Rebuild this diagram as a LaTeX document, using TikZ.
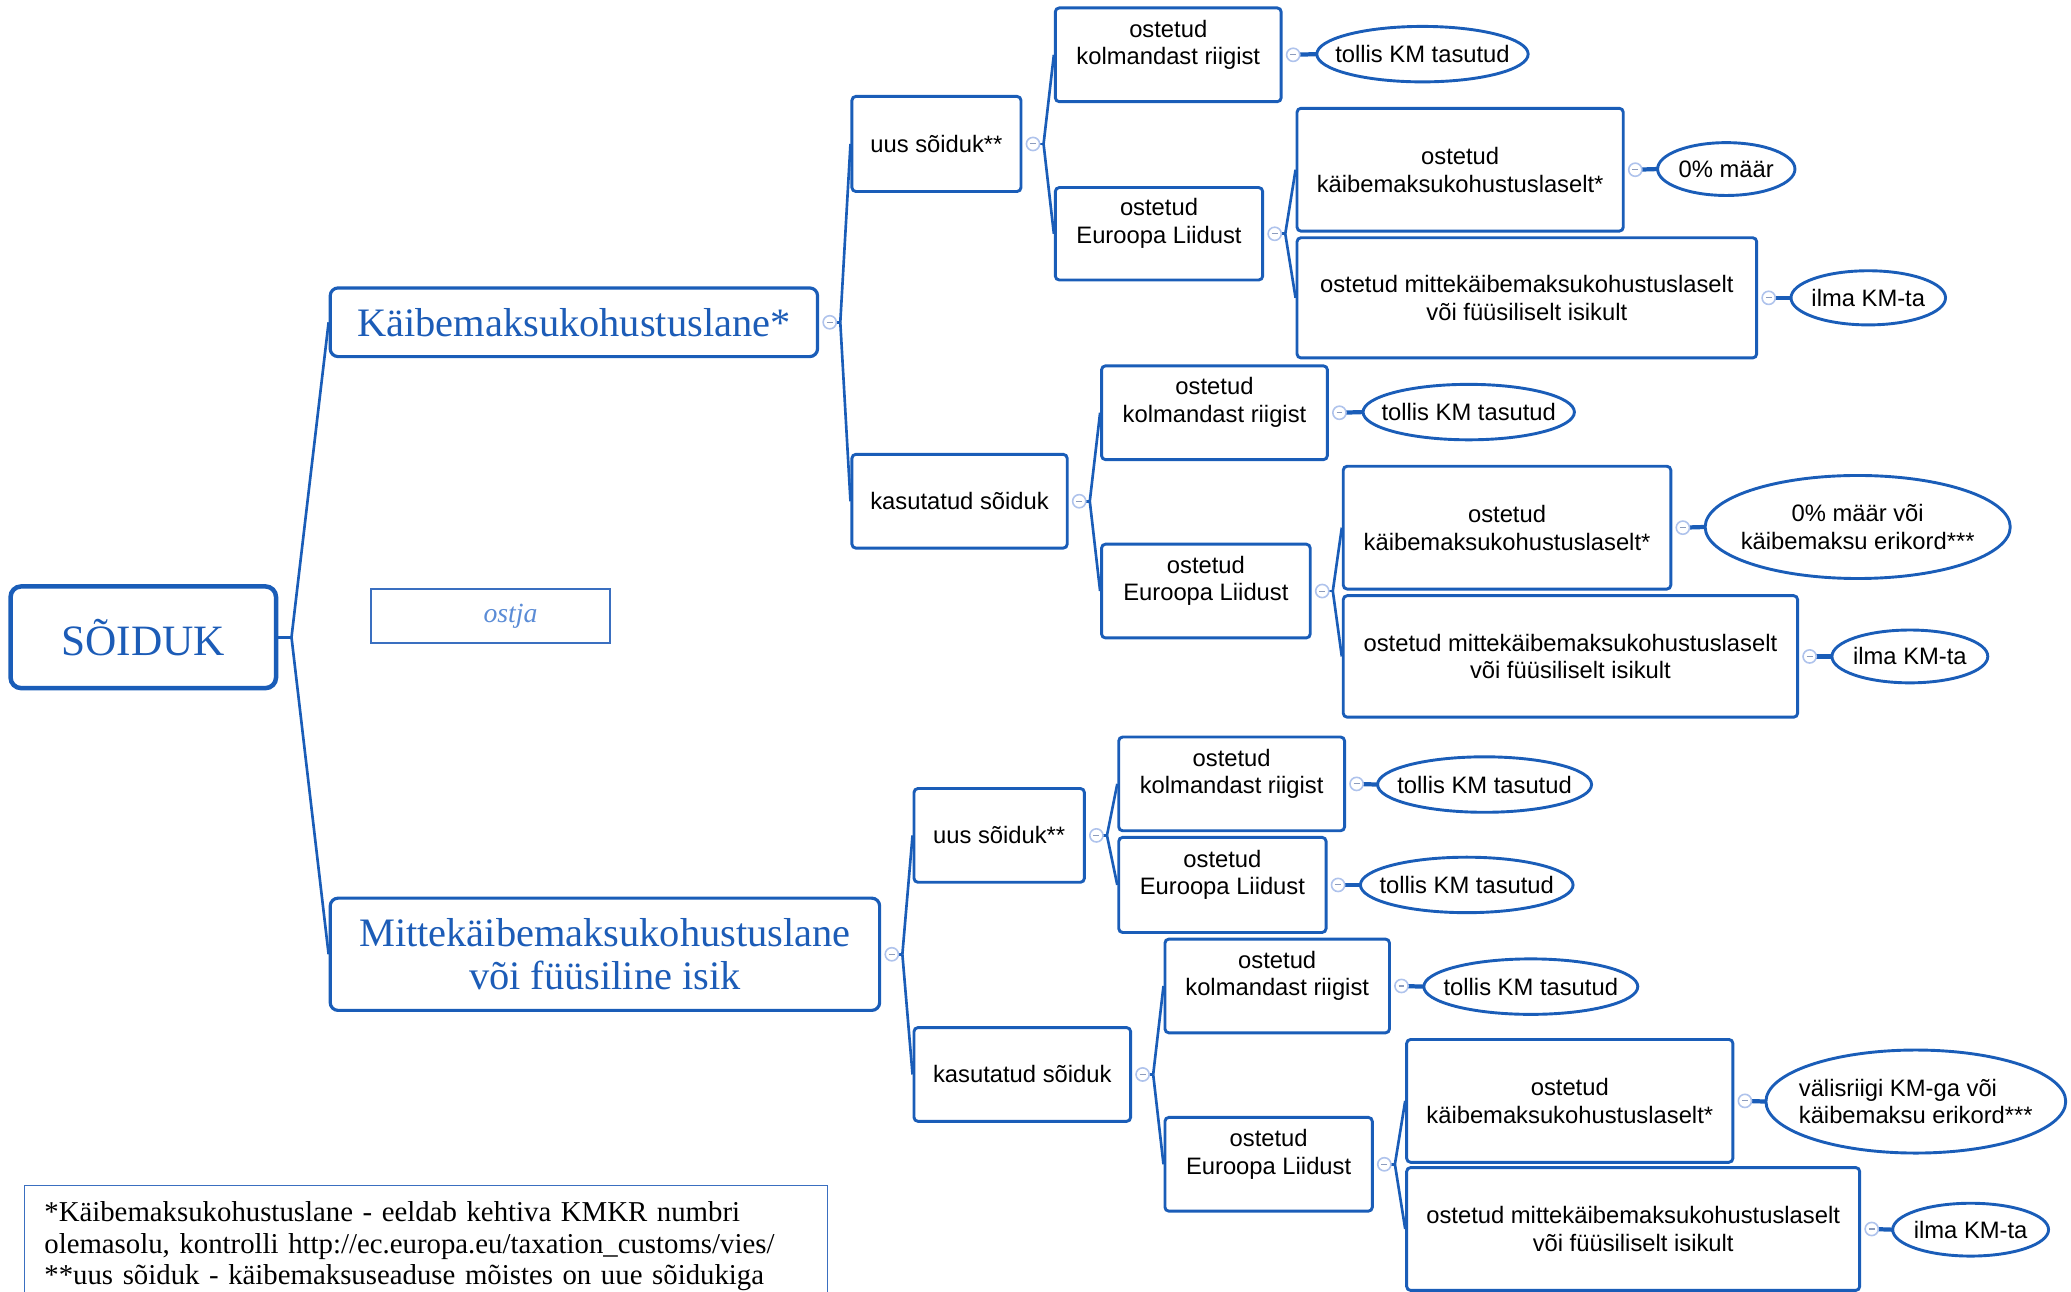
\documentclass[tikz,border=0pt]{standalone}
\usepackage{fontspec}
\setmainfont{Liberation Serif}
\newfontfamily\sansf{Liberation Sans}
\usetikzlibrary{shapes.geometric}
\definecolor{bl}{HTML}{1A5DB8}
\definecolor{hd}{HTML}{1C5CB7}
\definecolor{lt}{HTML}{5B8CD6}
\definecolor{cl}{HTML}{AFC3EC}
\definecolor{fb}{HTML}{3A6FC0}
\tikzset{
  conn/.style={draw=bl, line width=1pt},
  stub/.style={draw=bl, line width=1.6pt},
  bx/.style 2 args={draw=bl, line width=1.1pt, rounded corners=1.5pt, fill=white,
    font=\sansf\fontsize{9}{10.5}\selectfont, align=center, inner sep=0pt,
    minimum width=#1, minimum height=#2},
  elt/.style={font=\sansf\fontsize{9}{10.5}\selectfont, align=center, inner sep=0pt},
  elline/.style={draw=bl, line width=1.1pt},
  hd/.style 2 args={draw=bl, line width=1.2pt, rounded corners=3pt, fill=white,
    text=hd, align=center, inner sep=0pt, minimum width=#1, minimum height=#2},
  coll/.style={circle, draw=cl, line width=0.6pt, fill=white, inner sep=0pt, minimum size=5pt},
  collm/.style={draw=cl!80!black, line width=0.4pt},
}
\newcommand\hubfan[2]{%
  \coordinate (#1-c) at ([xshift=4pt]#1.east);
  \coordinate (#1-h) at ([xshift=8pt]#1.east);
  \draw[conn] (#1-c) -- (#1-h);
  \foreach \ch in {#2} {\draw[conn] (#1-h) -- (\ch.west);}
  \node[coll] (#1-cc) at (#1-c) {};
  \draw[collm] ([xshift=-1.1pt]#1-c) -- ([xshift=1.1pt]#1-c);
}
\newcommand\leafc[2]{%
  \coordinate (#1-c) at ([xshift=4pt]#1.east);
  \draw[stub] (#1-c) -- (#2.west);
  \node[coll] (#1-cc) at (#1-c) {};
  \draw[collm] ([xshift=-1.1pt]#1-c) -- ([xshift=1.1pt]#1-c);
}
\newcommand\ellnode[7][]{%
  \node[elt, #1, minimum width=#5, minimum height=#6] (#2) at (#3,#4) {#7};
  \draw[elline] (#2.center) ellipse [x radius=0.5*#5, y radius=0.5*#6];
}
\begin{document}
\begin{tikzpicture}[x=0.5pt,y=-0.5pt]
\useasboundingbox (0,0) rectangle (1568,978);
% root and level 1
\node[hd={100.5pt}{38.5pt}, line width=1.7pt, rounded corners=4pt, font=\fontsize{16.4}{18}\selectfont] (S) at (108.5,482.5) {SÕIDUK};
\node[draw=fb, line width=0.6pt, minimum width=90.5pt, minimum height=20.5pt, inner sep=0pt, text=lt, font=\itshape\fontsize{10.5}{12}\selectfont] (ostja) at (371.5,466.5) {\hspace*{15pt}ostja};
\node[hd={184.5pt}{26pt}, font=\fontsize{15.3}{16.5}\selectfont] (kaib) at (434.5,244) {Käibemaksukohustuslane*};
\node[hd={208pt}{42.5pt}, font=\fontsize{15.3}{16.3}\selectfont] (mitte) at (458,722.5) {Mittekäibemaksukohustuslane\\või füüsiline isik};
% level 2
\node[bx={64pt}{36pt}] (uus1) at (709,109) {uus sõiduk**};
\node[bx={81.5pt}{35.5pt}] (kas1) at (726.5,379.5) {kasutatud sõiduk};
\node[bx={64.5pt}{35.5pt}] (uus2) at (756.5,632.5) {uus sõiduk**};
\node[bx={82pt}{35.5pt}] (kas2) at (774,813.5) {kasutatud sõiduk};
% level 3
\node[bx={85.5pt}{35.5pt}] (k1) at (884.5,41.5) {ostetud\\kolmandast riigist\\[-1pt]\mbox{}};
\node[bx={78.5pt}{35pt}] (e1) at (877.5,177) {ostetud\\Euroopa Liidust\\[-1pt]\mbox{}};
\node[bx={85.5pt}{35.5pt}] (k2) at (919.5,312.5) {ostetud\\kolmandast riigist\\[-1pt]\mbox{}};
\node[bx={79pt}{35.5pt}] (e2) at (913,447.5) {ostetud\\Euroopa Liidust\\[-1pt]\mbox{}};
\node[bx={85.5pt}{35.5pt}] (k3) at (932.5,593.5) {ostetud\\kolmandast riigist\\[-1pt]\mbox{}};
\node[bx={78.5pt}{36pt}] (e3) at (925.5,670) {ostetud\\Euroopa Liidust\\[-1pt]\mbox{}};
\node[bx={85pt}{35.5pt}] (k4) at (967,746.5) {ostetud\\kolmandast riigist\\[-1pt]\mbox{}};
\node[bx={78.5pt}{35.5pt}] (e4) at (960.5,881.5) {ostetud\\Euroopa Liidust\\[-1pt]\mbox{}};
% level 4 boxes
\node[bx={123.5pt}{46.5pt}] (kk1) at (1105.5,128.5) {ostetud\\käibemaksukohustuslaselt*};
\node[bx={174pt}{45.5pt}] (mk1) at (1156,225.5) {ostetud mittekäibemaksukohustuslaselt\\või füüsiliselt isikult};
\node[bx={124pt}{46.5pt}] (kk2) at (1141,399.5) {ostetud\\käibemaksukohustuslaselt*};
\node[bx={172pt}{46pt}] (mk2) at (1189,497) {ostetud mittekäibemaksukohustuslaselt\\või füüsiliselt isikult};
\node[bx={123.5pt}{46.5pt}] (kk4) at (1188.5,833.5) {ostetud\\käibemaksukohustuslaselt*};
\node[bx={171.5pt}{46.5pt}] (mk4) at (1236.5,930.5) {ostetud mittekäibemaksukohustuslaselt\\või füüsiliselt isikult};
% ellipses
\ellnode{t1}{1077}{41}{80pt}{21pt}{tollis KM tasutud}
\ellnode{z1}{1307}{128}{52pt}{20pt}{0\% määr}
\ellnode{i1}{1414.5}{225.5}{58.5pt}{20.5pt}{ilma KM-ta}
\ellnode{t2}{1112}{312}{80pt}{21pt}{tollis KM tasutud}
\ellnode{z2}{1406.5}{399}{115.5pt}{39pt}{0\% määr või\\käibemaksu erikord***}
\ellnode{i2}{1446}{497}{59pt}{20pt}{ilma KM-ta}
\ellnode{t3}{1124}{594}{81pt}{21pt}{tollis KM tasutud}
\ellnode{t4}{1110.5}{670}{80.5pt}{21pt}{tollis KM tasutud}
\ellnode{t5}{1159}{747}{81pt}{21pt}{tollis KM tasutud}
\ellnode[align=left]{v4}{1450.5}{834}{113.5pt}{39pt}{välisriigi KM-ga või\\käibemaksu erikord***}
\ellnode{i4}{1492}{931}{59pt}{20pt}{ilma KM-ta}
% connectors
\coordinate (S-h) at ([xshift=5pt]S.east);
\draw[conn] (S.east) -- (S-h);
\draw[conn] (S-h) -- (kaib.west);
\draw[conn] (S-h) -- (mitte.west);
\hubfan{kaib}{uus1,kas1}
\hubfan{mitte}{uus2,kas2}
\hubfan{uus1}{k1,e1}
\hubfan{kas1}{k2,e2}
\hubfan{uus2}{k3,e3}
\hubfan{kas2}{k4,e4}
\hubfan{e1}{kk1,mk1}
\hubfan{e2}{kk2,mk2}
\hubfan{e4}{kk4,mk4}
\leafc{k1}{t1}
\leafc{kk1}{z1}
\leafc{mk1}{i1}
\leafc{k2}{t2}
\leafc{kk2}{z2}
\leafc{mk2}{i2}
\leafc{k3}{t3}
\leafc{e3}{t4}
\leafc{k4}{t5}
\leafc{kk4}{v4}
\leafc{mk4}{i4}
% footnote
\node[draw=fb, line width=0.6pt, anchor=north west, inner xsep=7.5pt, inner ysep=6pt,
  text width=289pt, align=left, font=\fontsize{10.9}{12}\selectfont] (fn) at (18,897)
  {*Käibemaksukohustuslane - eeldab kehtiva KMKR numbri\\{}olemasolu, kontrolli http://ec.europa.eu/taxation\_customs/vies/\\{}**uus sõiduk - käibemaksuseaduse mõistes on uue sõidukiga\\{}\strut};
\end{tikzpicture}
\end{document}
